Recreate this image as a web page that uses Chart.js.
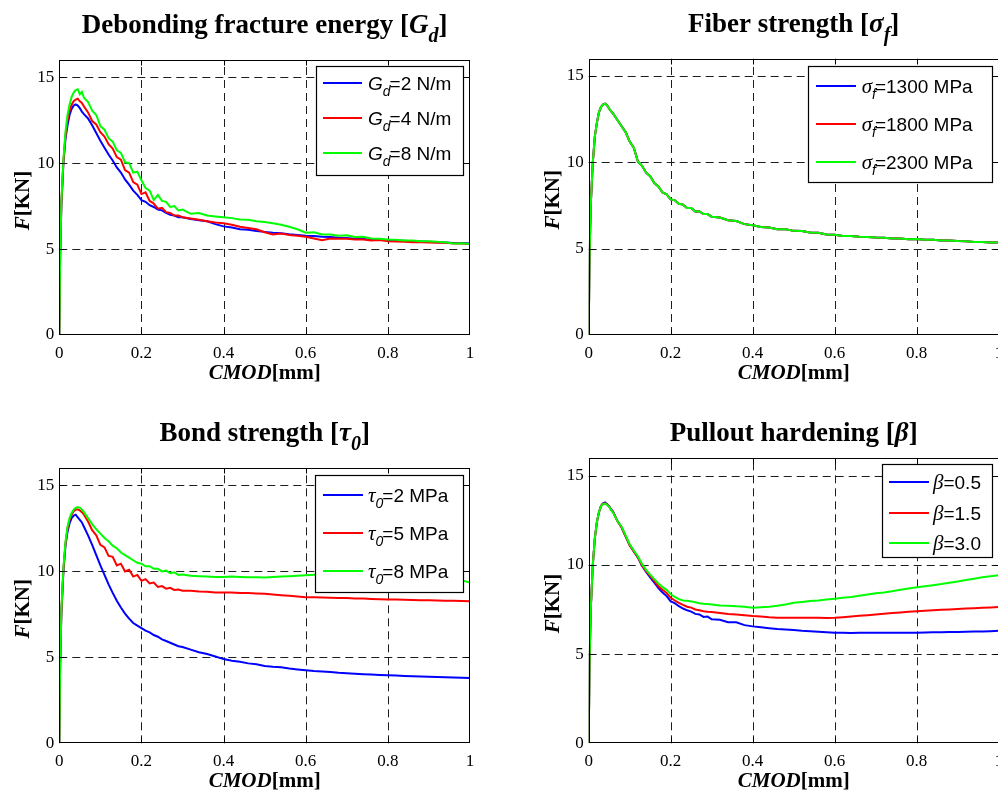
<!DOCTYPE html>
<html>
<head>
<meta charset="utf-8">
<script src="https://cdn.jsdelivr.net/npm/chart.js@4.4.1/dist/chart.umd.min.js"></script>
<style>
  html, body { margin: 0; padding: 0; background: #fff; overflow: hidden; }
  #page { position: relative; width: 998px; height: 793px; overflow: hidden; background: #fff; }
  canvas { position: absolute; }
</style>
</head>
<body>
<div id="page">
  <canvas id="pGd" width="499" height="400" style="left:0px;top:0px"></canvas>
  <canvas id="pSigma" width="520" height="400" style="left:499px;top:0px"></canvas>
  <canvas id="pTau" width="499" height="393" style="left:0px;top:400px"></canvas>
  <canvas id="pBeta" width="520" height="393" style="left:499px;top:400px"></canvas>
</div>
<script>
// CMOD samples [mm] shared by every curve
const cmod = [0, 0.002, 0.005, 0.01, 0.015, 0.02, 0.025, 0.03, 0.035, 0.04, 0.045, 0.05, 0.055, 0.06,
  0.07, 0.08, 0.09, 0.10, 0.11, 0.12, 0.13, 0.14, 0.15, 0.16, 0.17, 0.18, 0.19, 0.20, 0.21, 0.22, 0.23, 0.24, 0.25, 0.26, 0.27, 0.28, 0.29, 0.30,
  0.32, 0.34, 0.36, 0.38, 0.40, 0.42, 0.44, 0.46, 0.48, 0.50, 0.52, 0.54, 0.56, 0.58, 0.60, 0.62, 0.64, 0.66, 0.68, 0.70,
  0.72, 0.74, 0.76, 0.78, 0.80, 0.82, 0.84, 0.86, 0.88, 0.90, 0.92, 0.94, 0.96, 0.98, 1.00];

const xTicks = [0, 0.2, 0.4, 0.6, 0.8, 1];
const xTickLabels = ['0', '0.2', '0.4', '0.6', '0.8', '1'];
const yTicks = [0, 5, 10, 15];
const yTickLabels = ['0', '5', '10', '15'];

// Debonding fracture energy G_d [N/m]
const gdValues = [2, 4, 8];
const forceGd2 = [0, 4.5, 7.5, 10.0, 11.4, 12.2, 12.8, 13.15, 13.35, 13.42, 13.35, 13.2, 13.0, 12.85,
  12.6, 12.2, 11.75, 11.3, 10.9, 10.5, 10.15, 9.75, 9.45, 9.05, 8.75, 8.4, 8.15, 7.85, 7.75, 7.55, 7.45, 7.3, 7.25, 7.1, 7.0, 6.95, 6.85, 6.85,
  6.75, 6.68, 6.62, 6.45, 6.32, 6.25, 6.15, 6.12, 6.05, 6.0, 5.95, 5.92, 5.86, 5.82, 5.78, 5.76, 5.72, 5.7, 5.66, 5.64,
  5.6, 5.58, 5.56, 5.54, 5.52, 5.5, 5.48, 5.46, 5.44, 5.42, 5.4, 5.38, 5.36, 5.35, 5.33];
const forceGd4 = [0, 4.5, 7.6, 10.1, 11.6, 12.5, 13.05, 13.4, 13.6, 13.7, 13.75, 13.6, 13.5, 13.3,
  12.95, 12.45, 12.25, 11.8, 11.55, 11.1, 10.85, 10.35, 10.2, 9.6, 9.45, 8.9, 8.75, 8.2, 8.3, 7.8, 7.65, 7.35, 7.4, 7.15, 7.1, 6.95, 6.95, 6.85,
  6.78, 6.7, 6.62, 6.55, 6.5, 6.42, 6.3, 6.22, 6.15, 5.98, 5.85, 5.9, 5.82, 5.78, 5.72, 5.62, 5.52, 5.62, 5.6, 5.6,
  5.55, 5.56, 5.5, 5.52, 5.45, 5.44, 5.42, 5.4, 5.4, 5.38, 5.37, 5.36, 5.33, 5.32, 5.3];
const forceGd8 = [0, 4.6, 7.7, 10.2, 11.8, 12.8, 13.4, 13.85, 14.1, 14.25, 14.3, 14.0, 14.15, 13.8,
  13.55, 13.05, 12.8, 12.15, 11.95, 11.45, 11.25, 10.75, 10.6, 10.05, 10.0, 9.45, 9.5, 9.0, 8.55, 8.4, 7.85, 8.15, 7.8, 7.75, 7.45, 7.5, 7.25, 7.3,
  7.05, 7.1, 6.95, 6.9, 6.85, 6.8, 6.72, 6.7, 6.62, 6.58, 6.5, 6.42, 6.3, 6.15, 5.95, 5.98, 5.85, 5.85, 5.78, 5.8,
  5.7, 5.72, 5.62, 5.6, 5.55, 5.54, 5.5, 5.5, 5.45, 5.46, 5.42, 5.4, 5.33, 5.34, 5.3];

// Fiber strength sigma_f [MPa]
const sigmaValues = [1300, 1800, 2300];
const forceSigma1300 = [0, 4.5, 7.5, 10.0, 11.5, 12.3, 12.9, 13.2, 13.35, 13.4, 13.3, 13.1, 12.95, 12.8,
  12.45, 12.1, 11.75, 11.2, 10.85, 10.05, 9.8, 9.4, 9.2, 8.8, 8.6, 8.25, 8.15, 7.85, 7.8, 7.6, 7.55, 7.35, 7.35, 7.15, 7.15, 7.0, 7.0, 6.85,
  6.8, 6.65, 6.6, 6.42, 6.35, 6.25, 6.22, 6.12, 6.12, 6.03, 6.02, 5.93, 5.92, 5.82, 5.8, 5.74, 5.73, 5.69, 5.68, 5.64,
  5.63, 5.59, 5.59, 5.55, 5.56, 5.51, 5.51, 5.47, 5.47, 5.44, 5.43, 5.39, 5.39, 5.36, 5.36];
const forceSigma1800 = [0, 4.5, 7.5, 10.0, 11.5, 12.3, 12.9, 13.2, 13.35, 13.4, 13.3, 13.1, 12.95, 12.8,
  12.45, 12.1, 11.75, 11.2, 10.85, 10.05, 9.8, 9.4, 9.2, 8.8, 8.6, 8.25, 8.15, 7.85, 7.8, 7.6, 7.55, 7.35, 7.35, 7.15, 7.15, 7.0, 7.0, 6.85,
  6.8, 6.65, 6.6, 6.42, 6.35, 6.25, 6.22, 6.12, 6.12, 6.03, 6.02, 5.93, 5.92, 5.82, 5.8, 5.74, 5.73, 5.69, 5.68, 5.64,
  5.63, 5.59, 5.59, 5.55, 5.56, 5.51, 5.51, 5.47, 5.47, 5.44, 5.43, 5.39, 5.39, 5.36, 5.36];
const forceSigma2300 = [0, 4.5, 7.5, 10.0, 11.5, 12.3, 12.9, 13.2, 13.35, 13.4, 13.3, 13.1, 12.95, 12.8,
  12.45, 12.1, 11.75, 11.2, 10.85, 10.05, 9.8, 9.4, 9.2, 8.8, 8.6, 8.25, 8.15, 7.85, 7.8, 7.6, 7.55, 7.35, 7.35, 7.15, 7.15, 7.0, 7.0, 6.85,
  6.8, 6.65, 6.6, 6.42, 6.35, 6.25, 6.22, 6.12, 6.12, 6.03, 6.02, 5.93, 5.92, 5.82, 5.8, 5.74, 5.73, 5.69, 5.68, 5.64,
  5.63, 5.59, 5.59, 5.55, 5.56, 5.51, 5.51, 5.47, 5.47, 5.44, 5.43, 5.39, 5.39, 5.36, 5.36];

// Bond strength tau_0 [MPa]
const tauValues = [2, 5, 8];
const forceTau2 = [0, 4.5, 7.5, 10.0, 11.5, 12.3, 12.8, 13.1, 13.25, 13.3, 13.15, 13.0, 12.85, 12.6,
  12.1, 11.55, 10.95, 10.35, 9.8, 9.25, 8.75, 8.3, 7.9, 7.55, 7.25, 7.0, 6.85, 6.7, 6.55, 6.45, 6.3, 6.2, 6.05, 5.95, 5.85, 5.75, 5.65, 5.6,
  5.45, 5.3, 5.2, 5.05, 4.9, 4.8, 4.75, 4.65, 4.6, 4.5, 4.45, 4.42, 4.35, 4.3, 4.25, 4.2, 4.18, 4.15, 4.1, 4.08,
  4.05, 4.02, 4.0, 3.98, 3.96, 3.94, 3.92, 3.9, 3.88, 3.87, 3.86, 3.85, 3.83, 3.82, 3.8];
const forceTau5 = [0, 4.5, 7.6, 10.1, 11.6, 12.5, 13.0, 13.3, 13.5, 13.6, 13.6, 13.55, 13.45, 13.3,
  12.9, 12.4, 12.1, 11.55, 11.4, 10.9, 10.85, 10.35, 10.45, 10.0, 10.1, 9.7, 9.8, 9.45, 9.55, 9.3, 9.35, 9.1, 9.15, 9.0, 9.05, 8.92, 8.95, 8.88,
  8.87, 8.83, 8.82, 8.78, 8.77, 8.78, 8.74, 8.74, 8.72, 8.7, 8.66, 8.62, 8.58, 8.54, 8.5, 8.5, 8.48, 8.47, 8.46, 8.45,
  8.43, 8.42, 8.4, 8.38, 8.37, 8.36, 8.35, 8.34, 8.33, 8.32, 8.31, 8.3, 8.29, 8.28, 8.27];
const forceTau8 = [0, 4.6, 7.7, 10.2, 11.7, 12.6, 13.1, 13.4, 13.6, 13.7, 13.75, 13.7, 13.6, 13.45,
  13.1, 12.75, 12.45, 12.2, 11.95, 11.75, 11.5, 11.35, 11.1, 10.95, 10.8, 10.65, 10.5, 10.45, 10.3, 10.3, 10.15, 10.15, 10.0, 10.05, 9.9, 9.95, 9.8, 9.82,
  9.75, 9.72, 9.7, 9.68, 9.68, 9.7, 9.68, 9.66, 9.66, 9.65, 9.68, 9.7, 9.72, 9.75, 9.78, 9.8, 9.8, 9.8, 9.8, 9.78,
  9.78, 9.76, 9.75, 9.74, 9.72, 9.7, 9.68, 9.66, 9.64, 9.62, 9.6, 9.58, 9.55, 9.48, 9.35];

// Pullout hardening beta [-]
const betaValues = ['0.5', '1.5', '3.0'];
const forceBeta05 = [0, 4.5, 7.5, 10.0, 11.5, 12.4, 12.95, 13.3, 13.45, 13.5, 13.4, 13.28, 13.1, 12.95,
  12.45, 12.1, 11.6, 11.1, 10.75, 10.4, 9.95, 9.6, 9.3, 9.0, 8.7, 8.45, 8.25, 7.95, 7.85, 7.68, 7.55, 7.45, 7.38, 7.25, 7.22, 7.08, 7.1, 6.95,
  6.92, 6.78, 6.78, 6.62, 6.55, 6.5, 6.45, 6.4, 6.38, 6.35, 6.3, 6.28, 6.25, 6.22, 6.2, 6.2, 6.18, 6.2, 6.2, 6.2,
  6.2, 6.2, 6.2, 6.2, 6.2, 6.21, 6.22, 6.22, 6.23, 6.24, 6.25, 6.26, 6.27, 6.28, 6.3];
const forceBeta15 = [0, 4.5, 7.5, 10.0, 11.5, 12.4, 12.95, 13.3, 13.42, 13.45, 13.38, 13.25, 13.08, 12.93,
  12.45, 12.1, 11.6, 11.1, 10.75, 10.42, 9.98, 9.65, 9.38, 9.1, 8.8, 8.6, 8.42, 8.15, 8.0, 7.87, 7.75, 7.65, 7.6, 7.5, 7.45, 7.4, 7.37, 7.35,
  7.3, 7.25, 7.22, 7.18, 7.13, 7.1, 7.06, 7.04, 7.04, 7.04, 7.03, 7.03, 7.03, 7.02, 7.03, 7.06, 7.1, 7.14, 7.18, 7.22,
  7.26, 7.3, 7.33, 7.37, 7.4, 7.43, 7.46, 7.48, 7.5, 7.52, 7.55, 7.57, 7.59, 7.61, 7.63];
const forceBeta30 = [0, 4.5, 7.5, 10.0, 11.5, 12.4, 12.95, 13.28, 13.4, 13.43, 13.35, 13.25, 13.05, 12.9,
  12.45, 12.15, 11.65, 11.15, 10.8, 10.48, 10.05, 9.72, 9.45, 9.2, 8.95, 8.75, 8.6, 8.35, 8.2, 8.08, 8.0, 7.98, 7.95, 7.9, 7.85, 7.82, 7.8, 7.78,
  7.72, 7.7, 7.68, 7.65, 7.6, 7.62, 7.65, 7.7, 7.78, 7.87, 7.92, 7.97, 8.0, 8.05, 8.1, 8.15, 8.2, 8.27, 8.33, 8.4,
  8.45, 8.52, 8.6, 8.67, 8.74, 8.8, 8.86, 8.92, 9.0, 9.07, 9.15, 9.22, 9.3, 9.36, 9.42];

const seriesColors = ['#0000ff', '#ff0000', '#00ff00'];

const SERIF = '"Liberation Serif", "Times New Roman", serif';
const SANS = '"Liberation Sans", Arial, sans-serif';
const F_TITLE = `bold 27px ${SERIF}`;
const F_TITLE_I = `bold italic 27px ${SERIF}`;
const F_TITLE_SUB = `bold italic 20px ${SERIF}`;
const F_AXIS = `bold 21px ${SERIF}`;
const F_AXIS_I = `bold italic 21px ${SERIF}`;
const F_LEG = `19px ${SANS}`;
const F_LEG_LATIN = `italic 19px ${SANS}`;
const F_LEG_GREEK = `italic 21px ${SERIF}`;
const F_LEG_SUB = `italic 14px ${SANS}`;

// rich text helpers: a label is a list of runs {t, f, dx, dy}
function runsWidth(ctx, runs) {
  let w = 0;
  for (const r of runs) { ctx.font = r.f; w += ctx.measureText(r.t).width + (r.dx || 0); }
  return w;
}
function drawRuns(ctx, runs, x, y, center) {
  let cx = center ? x - runsWidth(ctx, runs) / 2 : x;
  for (const r of runs) {
    ctx.font = r.f;
    cx += (r.dx || 0);
    ctx.fillText(r.t, cx, y + (r.dy || 0));
    cx += ctx.measureText(r.t).width;
  }
}
function legendRuns(sym, symFont, sub, rest) {
  const runs = [{ t: sym, f: symFont }];
  if (sub) runs.push({ t: sub, f: F_LEG_SUB, dy: 6 });
  runs.push({ t: rest, f: F_LEG, dx: sub ? -1 : 0 });
  return runs;
}

const xLabelRuns = [{ t: 'CMOD', f: F_AXIS_I }, { t: '[mm]', f: F_AXIS }];
const yLabelRuns = [{ t: 'F', f: F_AXIS_I }, { t: '[KN]', f: F_AXIS }];

const panels = [
  {
    canvas: 'pGd', width: 499, height: 400,
    area: { left: 59.3, top: 60, right: 470, bottom: 335 },
    titleY: 32.7,
    title: [{ t: 'Debonding fracture energy [', f: F_TITLE }, { t: 'G', f: F_TITLE_I }, { t: 'd', f: F_TITLE_SUB, dy: 9 }, { t: ']', f: F_TITLE }],
    legend: { box: [316, 66, 463, 175], rows: [83, 118, 153], line: [323, 362], textX: 368 },
    series: [forceGd2, forceGd4, forceGd8],
    names: gdValues.map(v => ({ plain: `Gd=${v} N/m`, runs: legendRuns('G', F_LEG_LATIN, 'd', `=${v} N/m`) }))
  },
  {
    canvas: 'pSigma', width: 520, height: 400,
    area: { left: 89.7, top: 58.7, right: 499.7, bottom: 335 },
    titleY: 31.7,
    title: [{ t: 'Fiber strength [', f: F_TITLE }, { t: 'σ', f: F_TITLE_I }, { t: 'f', f: F_TITLE_SUB, dy: 9 }, { t: ']', f: F_TITLE }],
    legend: { box: [309, 66, 493, 182], rows: [86, 124, 162], line: [317, 357], textX: 362.7 },
    series: [forceSigma1300, forceSigma1800, forceSigma2300],
    names: sigmaValues.map(v => ({ plain: `σf=${v} MPa`, runs: legendRuns('σ', F_LEG_GREEK, 'f', `=${v} MPa`) }))
  },
  {
    canvas: 'pTau', width: 499, height: 393,
    area: { left: 59.3, top: 68.3, right: 470, bottom: 343.3 },
    titleY: 40.7,
    title: [{ t: 'Bond strength [', f: F_TITLE }, { t: 'τ', f: F_TITLE_I }, { t: '0', f: F_TITLE_SUB, dy: 9 }, { t: ']', f: F_TITLE }],
    legend: { box: [315, 75, 463, 192], rows: [95, 133, 171], line: [323, 363], textX: 368 },
    series: [forceTau2, forceTau5, forceTau8],
    names: tauValues.map(v => ({ plain: `τ0=${v} MPa`, runs: legendRuns('τ', F_LEG_GREEK, '0', `=${v} MPa`) }))
  },
  {
    canvas: 'pBeta', width: 520, height: 393,
    area: { left: 89.7, top: 57.7, right: 499.7, bottom: 343.3 },
    titleY: 40.7,
    title: [{ t: 'Pullout hardening [', f: F_TITLE }, { t: 'β', f: F_TITLE_I }, { t: ']', f: F_TITLE }],
    legend: { box: [383, 64, 493, 157], rows: [82, 113, 143], line: [390, 430], textX: 434 },
    series: [forceBeta05, forceBeta15, forceBeta30],
    names: betaValues.map(v => ({ plain: `β=${v}`, runs: legendRuns('β', F_LEG_GREEK, '', `=${v}`) }))
  }
];

// axes box, inward tick marks, dashed grid, legend, titles
function makeDecor(p) {
  return {
    id: 'decor',
    beforeDatasetsDraw(chart) {
      const { ctx, chartArea: a } = chart;
      const sx = chart.scales.x, sy = chart.scales.y;
      ctx.save();
      ctx.strokeStyle = '#1e1e1e';
      ctx.lineWidth = 1;
      ctx.setLineDash([8, 5]);
      for (const v of xTicks) {
        if (v <= sx.min || v >= sx.max) continue;
        const px = Math.round(sx.getPixelForValue(v)) + 0.5;
        ctx.beginPath(); ctx.moveTo(px, a.bottom); ctx.lineTo(px, a.top); ctx.stroke();
      }
      for (const v of yTicks) {
        if (v <= sy.min || v >= sy.max) continue;
        const py = Math.round(sy.getPixelForValue(v)) + 0.5;
        ctx.beginPath(); ctx.moveTo(a.left, py); ctx.lineTo(a.right, py); ctx.stroke();
      }
      ctx.restore();
    },
    afterDatasetsDraw(chart) {
      const { ctx, chartArea: a } = chart;
      const sx = chart.scales.x, sy = chart.scales.y;
      ctx.save();
      ctx.strokeStyle = '#000';
      ctx.lineWidth = 1;
      ctx.setLineDash([]);
      const L = Math.round(a.left) + 0.5, R = Math.round(a.right) - 0.5;
      const T = Math.round(a.top) + 0.5, B = Math.round(a.bottom) - 0.5;
      ctx.strokeRect(L, T, R - L, B - T);
      const tk = 5;
      ctx.beginPath();
      for (const v of xTicks) {
        if (v <= sx.min || v >= sx.max) continue;
        const px = Math.round(sx.getPixelForValue(v)) + 0.5;
        ctx.moveTo(px, B); ctx.lineTo(px, B - tk);
        ctx.moveTo(px, T); ctx.lineTo(px, T + tk);
      }
      for (const v of yTicks) {
        if (v <= sy.min || v >= sy.max) continue;
        const py = Math.round(sy.getPixelForValue(v)) + 0.5;
        ctx.moveTo(L, py); ctx.lineTo(L + tk, py);
        ctx.moveTo(R, py); ctx.lineTo(R - tk, py);
      }
      ctx.stroke();

      // legend
      const lg = p.legend;
      const [bx0, by0, bx1, by1] = lg.box;
      ctx.fillStyle = '#fff';
      ctx.fillRect(bx0, by0, bx1 - bx0, by1 - by0);
      ctx.strokeStyle = '#000';
      ctx.lineWidth = 1.2;
      ctx.strokeRect(bx0 + 0.5, by0 + 0.5, bx1 - bx0, by1 - by0);
      p.names.forEach((n, i) => {
        const y = lg.rows[i];
        ctx.strokeStyle = seriesColors[i];
        ctx.lineWidth = 2;
        ctx.beginPath(); ctx.moveTo(lg.line[0], y); ctx.lineTo(lg.line[1], y); ctx.stroke();
        ctx.fillStyle = '#000';
        ctx.textBaseline = 'alphabetic';
        drawRuns(ctx, n.runs, lg.textX, y + 7, false);
      });
      ctx.restore();
    },
    afterDraw(chart) {
      const { ctx, chartArea: a } = chart;
      ctx.save();
      ctx.fillStyle = '#000';
      ctx.textBaseline = 'alphabetic';
      const cx = (a.left + a.right) / 2;
      drawRuns(ctx, p.title, cx, p.titleY, true);
      drawRuns(ctx, xLabelRuns, cx, a.bottom + 43.5, true);
      ctx.translate(a.left - 30, (a.top + a.bottom) / 2 + 3);
      ctx.rotate(-Math.PI / 2);
      drawRuns(ctx, yLabelRuns, 0, 0, true);
      ctx.restore();
    }
  };
}

for (const p of panels) {
  const a = p.area;
  new Chart(document.getElementById(p.canvas), {
    type: 'line',
    data: {
      datasets: p.series.map((vals, i) => ({
        label: p.names[i].plain,
        data: cmod.map((x, k) => ({ x: x, y: vals[k] })),
        borderColor: seriesColors[i],
        backgroundColor: seriesColors[i],
        borderWidth: 2,
        pointRadius: 0,
        tension: 0,
        fill: false,
        order: 3 - i
      }))
    },
    options: {
      responsive: false,
      animation: false,
      devicePixelRatio: 1,
      events: [],
      layout: { padding: { left: 0, top: a.top, right: p.width - a.right, bottom: 0 } },
      plugins: { legend: { display: false }, tooltip: { enabled: false }, title: { display: false } },
      scales: {
        x: {
          type: 'linear', min: 0, max: 1,
          afterBuildTicks: s => { s.ticks = xTicks.map(v => ({ value: v })); },
          afterFit: s => { s.height = p.height - a.bottom; },
          ticks: {
            callback: (v, i) => xTickLabels[i],
            autoSkip: false, maxRotation: 0, padding: 8,
            color: '#000', font: { family: SERIF, size: 17 }
          },
          grid: { display: false, drawTicks: false },
          border: { display: false }
        },
        y: {
          type: 'linear', min: 0, max: 16,
          afterBuildTicks: s => { s.ticks = yTicks.map(v => ({ value: v })); },
          afterFit: s => { s.width = a.left; },
          ticks: {
            callback: (v, i) => yTickLabels[i],
            autoSkip: false, padding: 5,
            color: '#000', font: { family: SERIF, size: 17 }
          },
          grid: { display: false, drawTicks: false },
          border: { display: false }
        }
      }
    },
    plugins: [makeDecor(p)]
  });
}
</script>
</body>
</html>
